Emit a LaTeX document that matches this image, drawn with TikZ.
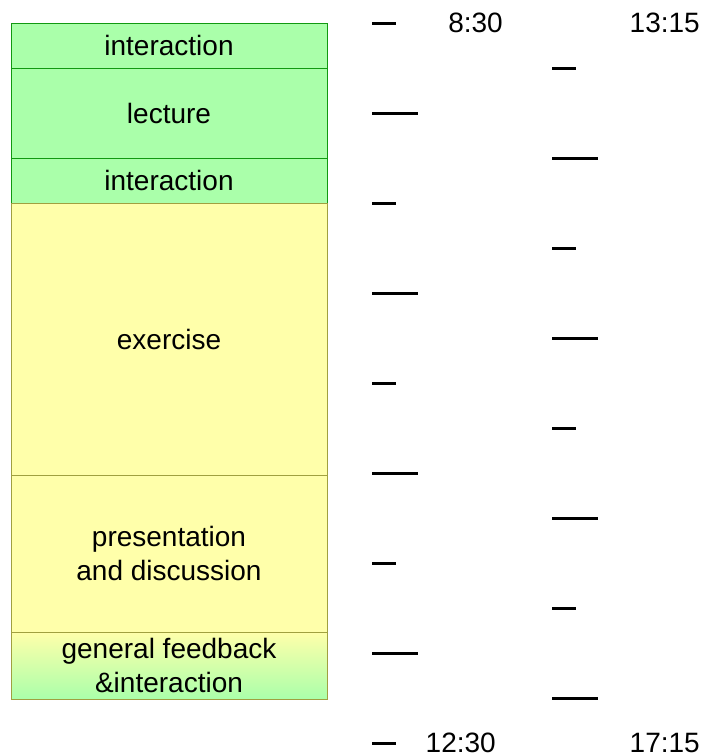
\documentclass[tikz,border=0pt]{standalone}
\usepackage{fontspec}
\setmainfont{Liberation Sans}
\usetikzlibrary{positioning}
\definecolor{slotgreen}{HTML}{AAFFAA}
\definecolor{slotgreenline}{HTML}{119911}
\definecolor{slotyellow}{HTML}{FFFFAA}
\definecolor{slotyellowline}{HTML}{A0A040}

\begin{document}
\begin{tikzpicture}[x=1pt,y=-1pt,node distance=0pt,
    slot/.style={draw,inner sep=0pt,outer sep=0pt,minimum width=316pt,align=center,
      font=\fontsize{28}{34}\selectfont},
    greenslot/.style={slot,draw=slotgreenline,fill=slotgreen},
    yellowslot/.style={slot,draw=slotyellowline,fill=slotyellow},
    timelabel/.style={inner sep=0pt,anchor=east,font=\fontsize{28}{34}\selectfont},
    tick/.style={line width=3pt}]
    \useasboundingbox (0,0) rectangle (704,756);
    % morning schedule
    \node[greenslot,minimum height=45pt] (inter1) at (169,45.5) {interaction};
    \node[greenslot,minimum height=90pt,below=of inter1] (lecture) {lecture};
    \node[greenslot,minimum height=45pt,below=of lecture] (inter2) {interaction};
    \node[yellowslot,minimum height=272pt,below=of inter2] (exercise) {exercise};
    \node[yellowslot,minimum height=157pt,below=of exercise] (present) {presentation\\and discussion};
    \node[slot,draw=slotyellowline,top color=slotyellow,bottom color=slotgreen,
      minimum height=67pt,below=of present] (feedback) {general feedback\\\&interaction};
    % time scales
    \foreach \i in {0,...,8}{
        \pgfmathsetmacro\len{mod(\i,2)==1 ? 46 : 24}
        \draw[tick] (372,{23+90*\i}) -- ++(\len,0);
    }
    \foreach \i in {1,...,8}{
        \pgfmathsetmacro\len{mod(\i,2)==1 ? 24 : 46}
        \draw[tick] (552,{-22+90*\i}) -- ++(\len,0);
    }
    \node[timelabel] (morningstart) at (503,23) {8:30};
    \node[timelabel] (morningend) at (496,743) {12:30};
    \node[timelabel] (afternoonstart) at (700,23) {13:15};
    \node[timelabel] (afternoonend) at (700,743) {17:15};
\end{tikzpicture}
\end{document}
